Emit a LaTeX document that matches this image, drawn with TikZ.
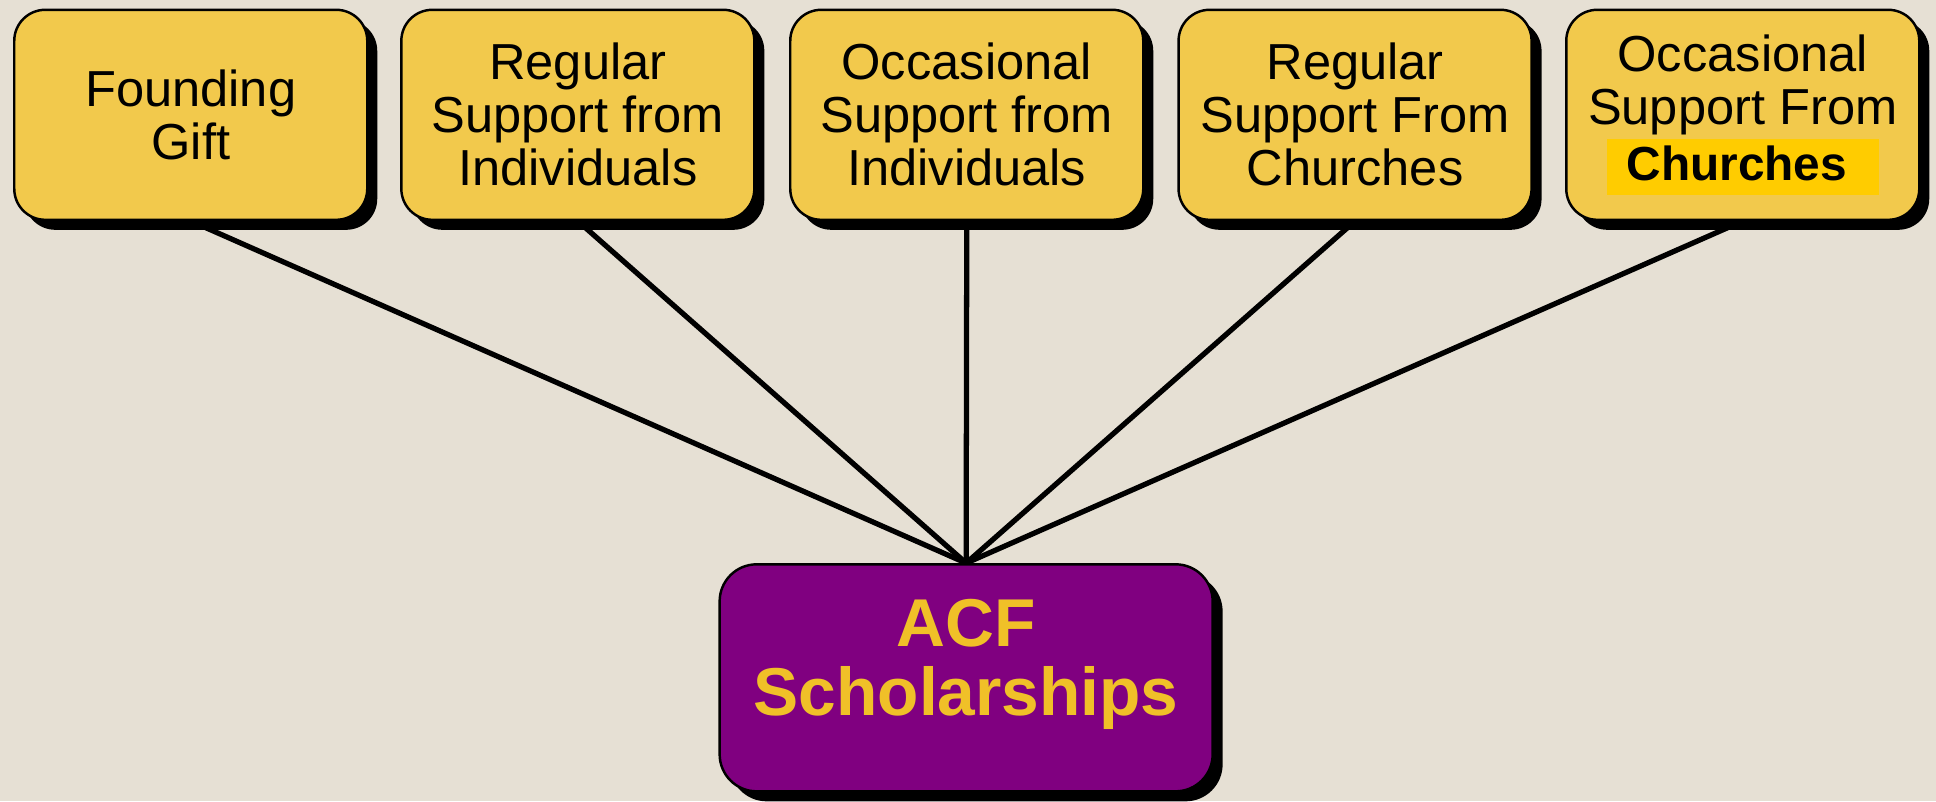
\documentclass[tikz,border=0pt]{standalone}
\usepackage{fontspec}
\setmainfont{Liberation Sans}
\usetikzlibrary{shadows, backgrounds}
\definecolor{paper}{RGB}{230,224,212}
\definecolor{boxyellow}{RGB}{242,201,76}
\definecolor{acfpurple}{RGB}{128,0,128}
\definecolor{acfgold}{RGB}{240,192,40}
\definecolor{hilite}{RGB}{255,204,0}

\begin{document}
\begin{tikzpicture}[x=0.12347mm, y=-0.12347mm,
    source/.style={draw=black, line width=0.7pt, fill=boxyellow, rounded corners=3.1mm,
        minimum width=35.3mm, minimum height=21mm, align=center,
        font=\fontsize{14.4pt}{15.1pt}\selectfont,
        drop shadow={shadow xshift=1mm, shadow yshift=-1mm, opacity=1, fill=black}},
    target/.style={draw=black, line width=0.7pt, fill=acfpurple, rounded corners=3.7mm,
        minimum width=49.3mm, minimum height=22.7mm,
        drop shadow={shadow xshift=1mm, shadow yshift=-1mm, opacity=1, fill=black}},
    targettext/.style={text=acfgold, align=center,
        font=\fontsize{19.25pt}{19.8pt}\selectfont\bfseries},
    link/.style={black, line width=1.5pt}]
        % Fondo
        \useasboundingbox (0,0) rectangle (1568,649);
        % Cajas de origen
        \node[source] (founding) at (154.5,93) {Founding\\Gift};
        \node[source] (regind) at (468,93) {Regular\\Support from\\Individuals};
        \node[source] (occind) at (783,93) {Occasional\\Support from\\Individuals};
        \node[source] (regchu) at (1097.5,93) {Regular\\Support From\\Churches};
        \node[source] (occchu) at (1411.5,93) {Occasional\\Support From\\[1pt]{\setlength\fboxsep{2pt}\colorbox{hilite}{\makebox[25.8mm]{\rule[-2pt]{0pt}{12pt}\fontsize{13.6pt}{14pt}\selectfont\bfseries Churches\hspace{1.2mm}}}}};
        % Caja destino
        \node[target] (acf) at (782.5,549) {};
        \node[targettext] (acftext) at (782.5,538) {ACF\\Scholarships};
        % Lineas por detras
        \begin{pgfonlayer}{background}
            \fill[paper] (0,0) rectangle (1568,649);
            \draw[link] (founding.south) -- (acf.north);
            \draw[link] (regind.south) -- (acf.north);
            \draw[link] (occind.south) -- (acf.north);
            \draw[link] (regchu.south) -- (acf.north);
            \draw[link] (occchu.south) -- (acf.north);
        \end{pgfonlayer}
    \end{tikzpicture}
\end{document}
